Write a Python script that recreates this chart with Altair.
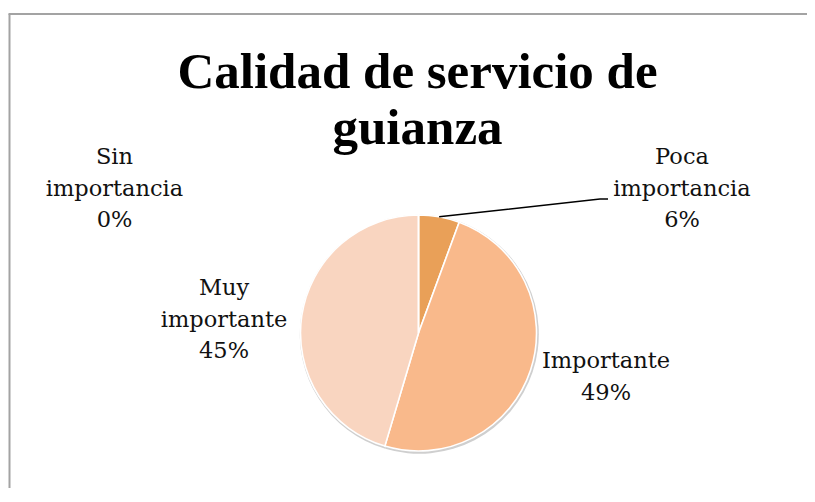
import math
import altair as alt
import pandas as pd

# ---- data ----
categories = ["Poca importancia", "Importante", "Muy importante", "Sin importancia"]
values = [5.6, 49.0, 45.4, 0.0]
pct_labels = ["6%", "49%", "45%", "0%"]
title_lines = ["Calidad de servicio de", "guianza"]

# ---- style / layout ----
colors = ["#E9A058", "#F9B98B", "#F9D5C0", "#F2C09E"]
W, H = 799, 480
CX, CY, R = 410.5, 325, 118
label_x = [674, 598, 216, 106.5]
label_y = [149, 353, 280, 149]   # first-line centres
LABEL_FONT = "DejaVu Serif"

pie_df = pd.DataFrame({
    "cat": categories,
    "val": values,
    "idx": list(range(len(categories))),
})

lab_df = pd.DataFrame({
    "txt": [c.replace(" ", "\n") + "\n" + p for c, p in zip(categories, pct_labels)],
    "lx": label_x,
    "ly": label_y,
})

# leader line for the small slice: rim point at the slice's mid-angle -> label
total = sum(values)
mid = 2 * math.pi * (values[0] / 2) / total
lead_df = pd.DataFrame({
    "px": [CX + R * math.sin(mid), 592, 600],
    "py": [CY - R * math.cos(mid), 191, 191],
    "o": [0, 1, 2],
})

xs = alt.Scale(domain=[0, W], range=[0, W])
ys = alt.Scale(domain=[0, H], range=[0, H])

shadow = alt.Chart(pie_df).mark_arc(radius=119.5, color="#cfcfcf").encode(
    theta=alt.Theta("val:Q", stack=True),
    order=alt.Order("idx:Q"),
    x=alt.value(CX + 0.8),
    y=alt.value(CY + 1.2),
)

pie = alt.Chart(pie_df).mark_arc(radius=R, stroke="white", strokeWidth=1.6).encode(
    theta=alt.Theta("val:Q", stack=True),
    order=alt.Order("idx:Q"),
    color=alt.Color("cat:N", scale=alt.Scale(domain=categories, range=colors), legend=None),
    x=alt.value(CX),
    y=alt.value(CY),
)

labels = alt.Chart(lab_df).mark_text(
    font=LABEL_FONT, fontSize=22.5, lineBreak="\n", lineHeight=31.5,
    align="center", baseline="middle", color="#111111",
).encode(
    x=alt.X("lx:Q", scale=xs, axis=None),
    y=alt.Y("ly:Q", scale=ys, axis=None),
    text="txt:N",
)

leader = alt.Chart(lead_df).mark_line(color="black", strokeWidth=1.5).encode(
    x=alt.X("px:Q", scale=xs, axis=None),
    y=alt.Y("py:Q", scale=ys, axis=None),
    order="o:Q",
)

title = alt.Chart(pd.DataFrame({"t": ["\n".join(title_lines)]})).mark_text(
    font="Liberation Serif", fontWeight="bold", fontSize=51, lineBreak="\n",
    lineHeight=56, align="center", baseline="alphabetic", color="black",
).encode(
    x=alt.value(409.5),
    y=alt.value(80),
    text="t:N",
)

border_left = alt.Chart(pd.DataFrame({"a": [0]})).mark_rule(color="#a3a3a3", strokeWidth=2).encode(
    x=alt.value(1.5), y=alt.value(6), y2=alt.value(H)
)
border_top = alt.Chart(pd.DataFrame({"a": [0]})).mark_rule(color="#a3a3a3", strokeWidth=2).encode(
    x=alt.value(0.5), x2=alt.value(W), y=alt.value(6)
)

chart = alt.layer(
    border_left, border_top, shadow, pie, leader, labels, title
).properties(
    width=W, height=H, padding=0,
    autosize=alt.AutoSizeParams(type="none"),
).configure_view(strokeWidth=0)

chart.save("out.html", embed_options={"renderer": "svg", "actions": False})
